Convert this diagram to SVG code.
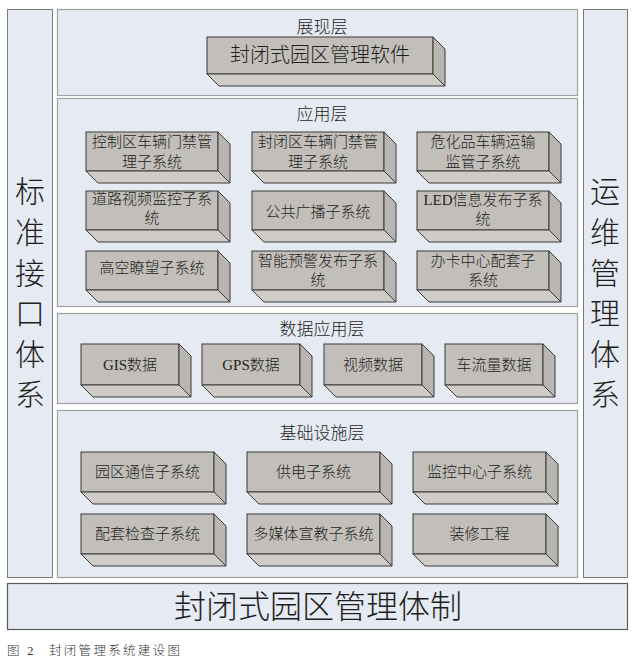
<svg xmlns="http://www.w3.org/2000/svg" width="634" height="665" viewBox="0 0 634 665">
<style>
.bg{fill:#ffffff}
.col{fill:#e6eaf2;stroke:#7a7a7a;stroke-width:1}
.panel{fill:#e6eaf2;stroke:#a0a0a0;stroke-width:1.2}
.bar{fill:#e6eaf2;stroke:#5a5a5a;stroke-width:1.2}
.front{fill:#c2bfba;stroke:#3a3a3a;stroke-width:1}
.bottom{fill:#cfccc7;stroke:#3a3a3a;stroke-width:1}
.side{fill:#b9b6b1;stroke:#3a3a3a;stroke-width:1}
text{font-family:"Liberation Serif","Noto Sans CJK SC",serif;fill:#1e1e1e;text-anchor:middle;font-weight:300}
.t15{font-size:15px}
.t17{font-size:17px}
.t20{font-size:20px}
.big{font-size:30px}
.bar-t{font-size:32px}
.cap{font-size:12.5px;text-anchor:start;fill:#333;letter-spacing:2.3px}
</style>
<rect class="bg" x="0" y="0" width="634" height="665"/>

<g id="left-column">
<rect class="col" x="7.5" y="9.5" width="45" height="568"/>
<text class="big" x="30" y="202">标</text>
<text class="big" x="30" y="243">准</text>
<text class="big" x="30" y="284">接</text>
<text class="big" x="30" y="324">口</text>
<text class="big" x="30" y="365">体</text>
<text class="big" x="30" y="405">系</text>
</g>

<g id="right-column">
<rect class="col" x="583.5" y="9.5" width="44" height="568"/>
<text class="big" x="605" y="202">运</text>
<text class="big" x="605" y="243">维</text>
<text class="big" x="605" y="284">管</text>
<text class="big" x="605" y="324">理</text>
<text class="big" x="605" y="365">体</text>
<text class="big" x="605" y="405">系</text>
</g>

<g id="layer-display">
<rect class="panel" x="57.5" y="9.5" width="520" height="86"/>
<text class="t17" x="322" y="33">展现层</text>
</g>
<g id="node-software">
<rect class="front" x="207" y="37" width="226" height="37"/>
<polygon class="bottom" points="207,74 433,74 445,86 219,86"/>
<polygon class="side" points="433,37 445,49 445,86 433,74"/>
<text class="t20" x="320" y="62">封闭式园区管理软件</text>
</g>

<g id="layer-application">
<rect class="panel" x="57.5" y="98.5" width="520" height="208"/>
<text class="t17" x="322" y="120">应用层</text>
</g>
<g id="node-a1">
<rect class="front" x="86" y="132" width="132" height="39"/>
<polygon class="bottom" points="86,171 218,171 230,183 98,183"/>
<polygon class="side" points="218,132 230,144 230,183 218,171"/>
<text class="t15" x="152" y="147">控制区车辆门禁管</text>
<text class="t15" x="152" y="167">理子系统</text>
</g>
<g id="node-a2">
<rect class="front" x="252" y="132" width="132" height="39"/>
<polygon class="bottom" points="252,171 384,171 396,183 264,183"/>
<polygon class="side" points="384,132 396,144 396,183 384,171"/>
<text class="t15" x="318" y="147">封闭区车辆门禁管</text>
<text class="t15" x="318" y="167">理子系统</text>
</g>
<g id="node-a3">
<rect class="front" x="417" y="132" width="132" height="39"/>
<polygon class="bottom" points="417,171 549,171 561,183 429,183"/>
<polygon class="side" points="549,132 561,144 561,183 549,171"/>
<text class="t15" x="483" y="147">危化品车辆运输</text>
<text class="t15" x="483" y="167">监管子系统</text>
</g>
<g id="node-a4">
<rect class="front" x="86" y="191" width="132" height="39"/>
<polygon class="bottom" points="86,230 218,230 230,242 98,242"/>
<polygon class="side" points="218,191 230,203 230,242 218,230"/>
<text class="t15" x="152" y="204">道路视频监控子系</text>
<text class="t15" x="152" y="223">统</text>
</g>
<g id="node-a5">
<rect class="front" x="252" y="191" width="132" height="39"/>
<polygon class="bottom" points="252,230 384,230 396,242 264,242"/>
<polygon class="side" points="384,191 396,203 396,242 384,230"/>
<text class="t15" x="318" y="217">公共广播子系统</text>
</g>
<g id="node-a6">
<rect class="front" x="417" y="191" width="132" height="39"/>
<polygon class="bottom" points="417,230 549,230 561,242 429,242"/>
<polygon class="side" points="549,191 561,203 561,242 549,230"/>
<text class="t15" x="483" y="205">LED信息发布子系</text>
<text class="t15" x="483" y="224">统</text>
</g>
<g id="node-a7">
<rect class="front" x="86" y="251" width="132" height="39"/>
<polygon class="bottom" points="86,290 218,290 230,302 98,302"/>
<polygon class="side" points="218,251 230,263 230,302 218,290"/>
<text class="t15" x="152" y="273">高空瞭望子系统</text>
</g>
<g id="node-a8">
<rect class="front" x="252" y="251" width="132" height="39"/>
<polygon class="bottom" points="252,290 384,290 396,302 264,302"/>
<polygon class="side" points="384,251 396,263 396,302 384,290"/>
<text class="t15" x="318" y="266">智能预警发布子系</text>
<text class="t15" x="318" y="285">统</text>
</g>
<g id="node-a9">
<rect class="front" x="417" y="251" width="132" height="39"/>
<polygon class="bottom" points="417,290 549,290 561,302 429,302"/>
<polygon class="side" points="549,251 561,263 561,302 549,290"/>
<text class="t15" x="483" y="266">办卡中心配套子</text>
<text class="t15" x="483" y="285">系统</text>
</g>

<g id="layer-data">
<rect class="panel" x="57.5" y="313.5" width="520" height="90"/>
<text class="t17" x="322" y="335">数据应用层</text>
</g>
<g id="node-d1">
<rect class="front" x="81" y="344" width="98" height="41"/>
<polygon class="bottom" points="81,385 179,385 191,397 93,397"/>
<polygon class="side" points="179,344 191,356 191,397 179,385"/>
<text class="t15" x="130" y="370">GIS数据</text>
</g>
<g id="node-d2">
<rect class="front" x="202" y="344" width="98" height="41"/>
<polygon class="bottom" points="202,385 300,385 312,397 214,397"/>
<polygon class="side" points="300,344 312,356 312,397 300,385"/>
<text class="t15" x="251" y="370">GPS数据</text>
</g>
<g id="node-d3">
<rect class="front" x="324" y="344" width="98" height="41"/>
<polygon class="bottom" points="324,385 422,385 434,397 336,397"/>
<polygon class="side" points="422,344 434,356 434,397 422,385"/>
<text class="t15" x="373" y="370">视频数据</text>
</g>
<g id="node-d4">
<rect class="front" x="445" y="344" width="98" height="41"/>
<polygon class="bottom" points="445,385 543,385 555,397 457,397"/>
<polygon class="side" points="543,344 555,356 555,397 543,385"/>
<text class="t15" x="494" y="370">车流量数据</text>
</g>

<g id="layer-infrastructure">
<rect class="panel" x="57.5" y="410.5" width="520" height="167"/>
<text class="t17" x="322" y="439">基础设施层</text>
</g>
<g id="node-i1">
<rect class="front" x="81" y="452" width="133" height="40"/>
<polygon class="bottom" points="81,492 214,492 226,504 93,504"/>
<polygon class="side" points="214,452 226,464 226,504 214,492"/>
<text class="t15" x="147.5" y="477">园区通信子系统</text>
</g>
<g id="node-i2">
<rect class="front" x="247" y="452" width="133" height="40"/>
<polygon class="bottom" points="247,492 380,492 392,504 259,504"/>
<polygon class="side" points="380,452 392,464 392,504 380,492"/>
<text class="t15" x="313.5" y="477">供电子系统</text>
</g>
<g id="node-i3">
<rect class="front" x="413" y="452" width="133" height="40"/>
<polygon class="bottom" points="413,492 546,492 558,504 425,504"/>
<polygon class="side" points="546,452 558,464 558,504 546,492"/>
<text class="t15" x="479.5" y="477">监控中心子系统</text>
</g>
<g id="node-i4">
<rect class="front" x="81" y="514" width="133" height="40"/>
<polygon class="bottom" points="81,554 214,554 226,566 93,566"/>
<polygon class="side" points="214,514 226,526 226,566 214,554"/>
<text class="t15" x="147.5" y="539">配套检查子系统</text>
</g>
<g id="node-i5">
<rect class="front" x="247" y="514" width="133" height="40"/>
<polygon class="bottom" points="247,554 380,554 392,566 259,566"/>
<polygon class="side" points="380,514 392,526 392,566 380,554"/>
<text class="t15" x="313.5" y="539">多媒体宣教子系统</text>
</g>
<g id="node-i6">
<rect class="front" x="413" y="514" width="133" height="40"/>
<polygon class="bottom" points="413,554 546,554 558,566 425,566"/>
<polygon class="side" points="546,514 558,526 558,566 546,554"/>
<text class="t15" x="479.5" y="539">装修工程</text>
</g>

<g id="bottom-bar">
<rect class="bar" x="7.5" y="583.5" width="620" height="46"/>
<text class="bar-t" x="318" y="618">封闭式园区管理体制</text>
</g>

<g id="connectors"></g>

<g id="caption">
<text class="cap" x="7" y="655">图 2<tspan x="49">封闭管理系统建设图</tspan></text>
</g>
</svg>
